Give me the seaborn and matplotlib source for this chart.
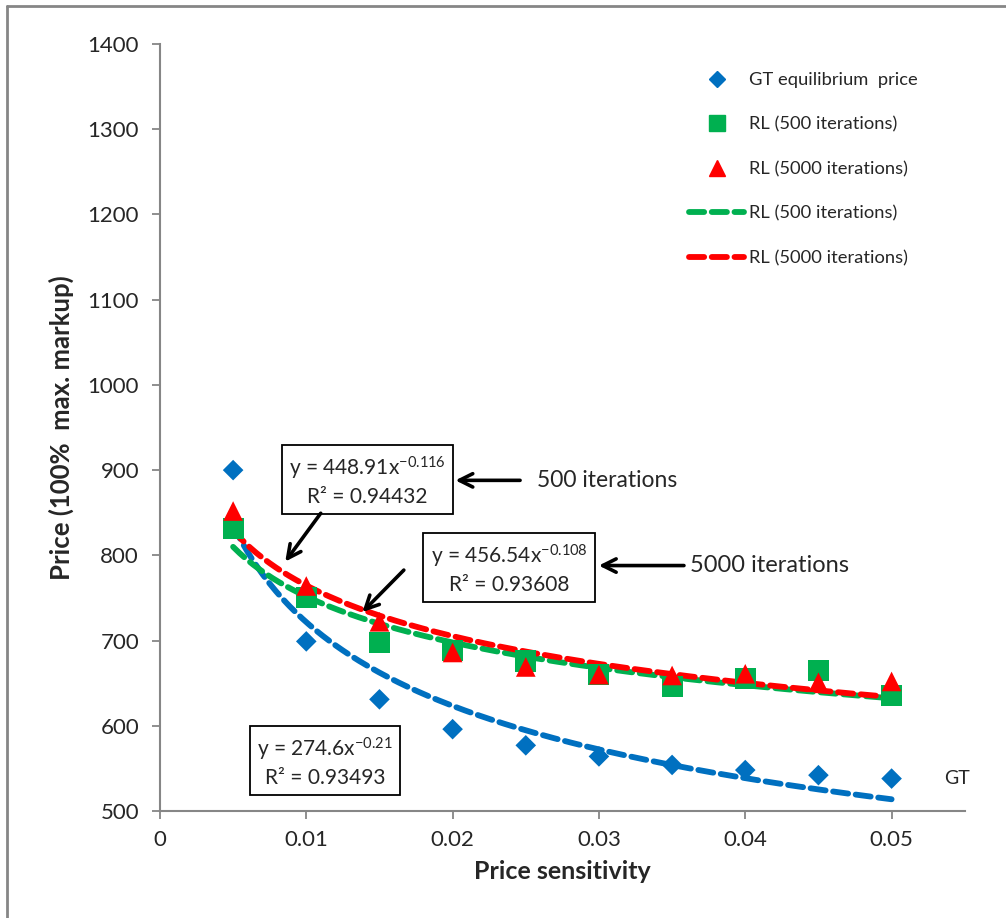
import numpy as np
import pandas as pd
import matplotlib
matplotlib.use('Agg')
import matplotlib.pyplot as plt
import seaborn as sns
from matplotlib.lines import Line2D

# ── Data ──────────────────────────────────────────────────────────────────────
sensitivity = [0.005, 0.010, 0.015, 0.020, 0.025, 0.030, 0.035, 0.040, 0.045, 0.050]
gt_price = [900, 699, 631, 596, 577, 564, 554, 548, 542, 538]
rl500_price = [832, 751, 698, 688, 676, 660, 646, 655, 665, 635]
rl5000_price = [852, 764, 722, 686, 669, 660, 659, 661, 651, 652]

y_ticks = [500, 600, 700, 800, 900, 1000, 1100, 1200, 1300, 1400]
x_ticks = [0, 0.01, 0.02, 0.03, 0.04, 0.05]
x_tick_labels = ['0', '0.01', '0.02', '0.03', '0.04', '0.05']

BLUE = '#0070C0'
GREEN = '#00B050'
RED = '#FF0000'
GREY = '#868686'

sns.set_style('white')
plt.rcParams['font.family'] = ['Lato', 'DejaVu Sans']
plt.rcParams['mathtext.fontset'] = 'custom'
plt.rcParams['mathtext.rm'] = 'Lato'
plt.rcParams['mathtext.it'] = 'Lato:italic'

df = pd.DataFrame({'x': sensitivity, 'gt': gt_price,
                   'rl500': rl500_price, 'rl5000': rl5000_price})


# power trendline y = a * x^b, fitted in log space like a spreadsheet trendline
def power_fit(x, y):
    b, log_a = np.polyfit(np.log(x), np.log(y), 1)
    xs = np.linspace(min(x), max(x), 200)
    return pd.DataFrame({'x': xs, 'y': np.exp(log_a) * xs ** b})


fig = plt.figure(figsize=(10.06, 9.18), dpi=100)
ax = fig.add_axes([0.159, 0.1166, 0.8, 0.8354])

dash_kw = dict(linewidth=4.2, dashes=(2.6, 1.3), dash_capstyle='round')
sns.lineplot(data=power_fit(df['x'], df['gt']), x='x', y='y', ax=ax,
             color=BLUE, **dash_kw)
sns.lineplot(data=power_fit(df['x'], df['rl500']), x='x', y='y', ax=ax,
             color=GREEN, **dash_kw)
sns.lineplot(data=power_fit(df['x'], df['rl5000']), x='x', y='y', ax=ax,
             color=RED, **dash_kw)

sns.scatterplot(data=df, x='x', y='gt', ax=ax, marker='D', s=110,
                color=BLUE, edgecolor='none', zorder=3)
sns.scatterplot(data=df, x='x', y='rl500', ax=ax, marker='s', s=230,
                color=GREEN, edgecolor='none', zorder=3)
sns.scatterplot(data=df, x='x', y='rl5000', ax=ax, marker='^', s=200,
                color=RED, edgecolor='none', zorder=4)

ax.set_xlim(0, 0.055)
ax.set_ylim(500, 1400)
ax.set_xticks(x_ticks)
ax.set_xticklabels(x_tick_labels)
ax.set_yticks(y_ticks)
ax.tick_params(axis='both', labelsize=16, direction='out', length=6,
               width=1.3, color=GREY, left=True, bottom=True)
ax.tick_params(axis='y', pad=9)
ax.tick_params(axis='x', pad=8)
for side in ['top', 'right']:
    ax.spines[side].set_visible(False)
for side in ['left', 'bottom']:
    ax.spines[side].set_color(GREY)
    ax.spines[side].set_linewidth(1.5)

ax.set_xlabel('Price sensitivity', fontsize=18, fontweight='bold', labelpad=7)
ax.set_ylabel('Price (100%  max. markup)', fontsize=18.5, fontweight='bold', labelpad=10)

# ── Legend ─────────────────────────────────────────────────────────────────────
handles = [
    Line2D([], [], marker='D', color=BLUE, linestyle='none', markersize=8),
    Line2D([], [], marker='s', color=GREEN, linestyle='none', markersize=11),
    Line2D([], [], marker='^', color=RED, linestyle='none', markersize=11),
    Line2D([], [], color=GREEN, **dash_kw),
    Line2D([], [], color=RED, **dash_kw),
]
labels = ['GT equilibrium  price', 'RL (500 iterations)', 'RL (5000 iterations)',
          'RL (500 iterations)', 'RL (5000 iterations)']
ax.legend(handles, labels, loc='upper right', bbox_to_anchor=(0.962, 0.985),
          frameon=False, fontsize=13.2, labelspacing=1.55, handlelength=3.0,
          handletextpad=0.25)

# ── Trendline equations and arrows ────────────────────────────────────────────
box = dict(boxstyle='square,pad=0.35', facecolor='white', edgecolor='black', linewidth=1.3)
ax.text(0.0142, 887, 'y = 448.91x$^{\\mathrm{-0.116}}$\nR² = 0.94432', fontsize=15,
        ha='center', va='center', bbox=box, linespacing=1.3, zorder=6)
ax.text(0.02385, 784, 'y = 456.54x$^{\\mathrm{-0.108}}$\nR² = 0.93608', fontsize=15,
        ha='center', va='center', bbox=box, linespacing=1.3, zorder=6)
ax.text(0.01127, 558, 'y = 274.6x$^{\\mathrm{-0.21}}$\nR² = 0.93493', fontsize=15,
        ha='center', va='center', bbox=box, linespacing=1.3, zorder=6)

arrow = dict(arrowstyle='->', color='black', lw=2.6, mutation_scale=24)
ax.annotate('', xy=(0.0200, 888), xytext=(0.0248, 888), arrowprops=arrow, zorder=7)
ax.annotate('', xy=(0.0298, 788), xytext=(0.0360, 788), arrowprops=arrow, zorder=7)
ax.annotate('', xy=(0.00845, 790), xytext=(0.0111, 852), arrowprops=arrow, zorder=7)
ax.annotate('', xy=(0.0137, 731), xytext=(0.0168, 785), arrowprops=arrow, zorder=7)

ax.text(0.0258, 888, '500 iterations', fontsize=16.5, ha='left', va='center')
ax.text(0.0362, 788, '5000 iterations', fontsize=17, ha='left', va='center')
ax.text(0.0536, 538, 'GT', fontsize=14, ha='left', va='center')

# outer chart-area border (only top and left fall inside the picture)
fig.add_artist(Line2D([0.007, 0.007], [0.0, 0.9935], transform=fig.transFigure,
                      color=GREY, linewidth=2))
fig.add_artist(Line2D([0.007, 1.0], [0.9935, 0.9935], transform=fig.transFigure,
                      color=GREY, linewidth=2))

plt.savefig('out.png', dpi=100)
plt.close()
